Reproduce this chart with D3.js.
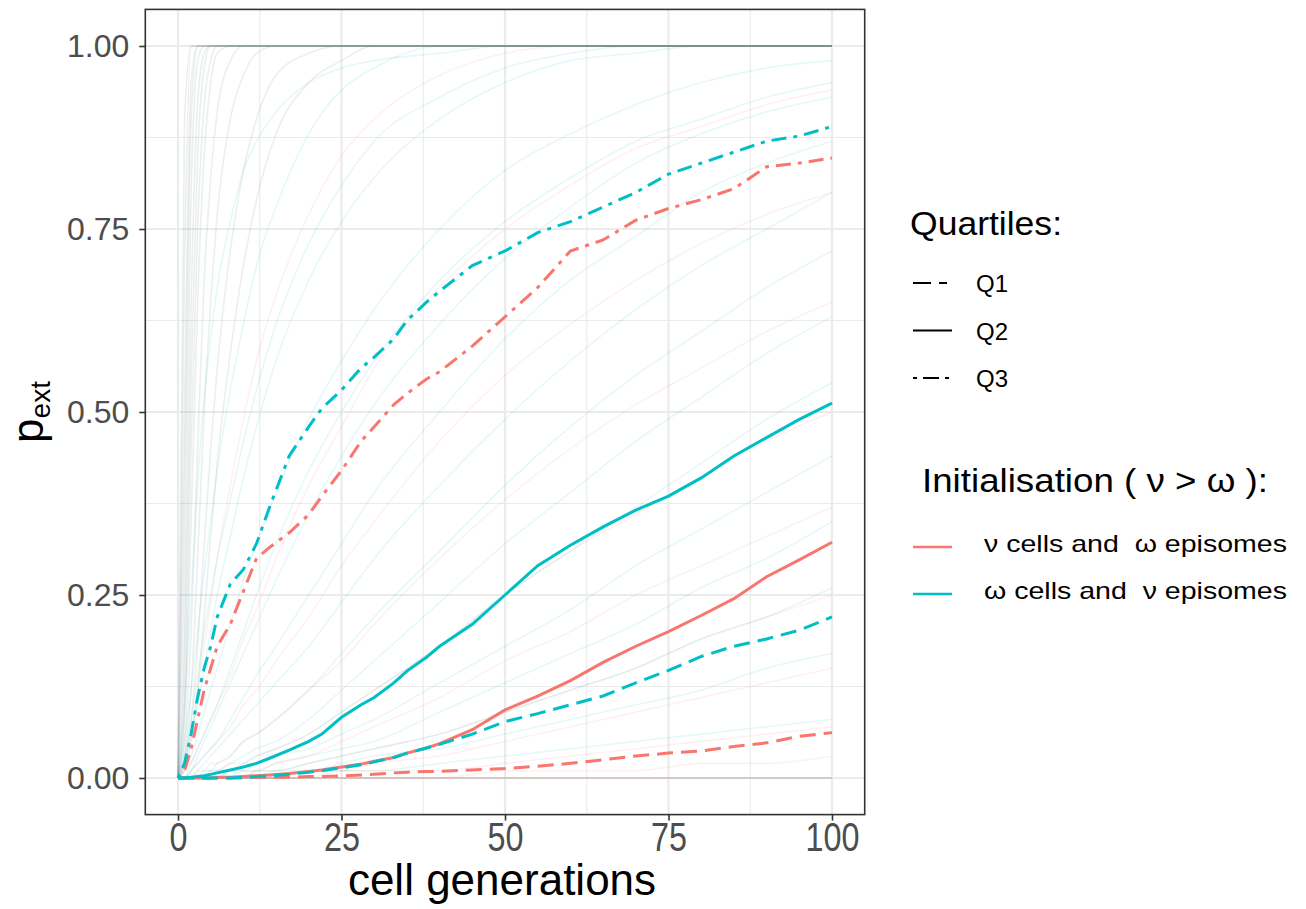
<!DOCTYPE html>
<html>
<head>
<meta charset="utf-8">
<script src="https://cdn.jsdelivr.net/npm/d3@7"></script>
<style>
  body { margin: 0; background: #fff; }
  text { font-family: "Liberation Sans", Arial, sans-serif; }
</style>
</head>
<body>
<script>
/* DATA - quartile curves */
const gens = [0,1,2,3,4,5,6,8,10,12,14,17,20,22,25,28,30,33,35,38,40,45,50,55,60,65,70,75,80,85,90,95,100]

// ν cells and ω episomes (red)
const redQ1 = [0,0,0,0,0,0,0,0,0,0.001,0.001,0.001,0.002,0.002,0.003,0.004,0.005,0.007,0.008,0.009,0.009,0.011,0.013,0.016,0.02,0.025,0.03,0.034,0.037,0.043,0.048,0.057,0.062]
const redQ2 = [0,0,0,0,0,0,0.001,0.001,0.002,0.003,0.004,0.006,0.009,0.011,0.015,0.019,0.023,0.028,0.034,0.041,0.047,0.066,0.093,0.112,0.133,0.158,0.18,0.2,0.222,0.245,0.275,0.298,0.322]
const redQ3 = [0,0.01,0.04,0.08,0.12,0.15,0.18,0.21,0.255,0.3,0.315,0.335,0.36,0.385,0.42,0.46,0.48,0.51,0.525,0.545,0.555,0.59,0.63,0.67,0.72,0.735,0.762,0.778,0.79,0.805,0.835,0.84,0.847]
// ω cells and ν episomes (cyan)
const cyanQ1 = [0,0,0,0,0,0,0,0,0.001,0.002,0.003,0.005,0.008,0.01,0.014,0.018,0.022,0.028,0.034,0.041,0.046,0.06,0.077,0.088,0.1,0.112,0.13,0.147,0.166,0.18,0.19,0.202,0.22]
const cyanQ2 = [0,0,0.001,0.002,0.003,0.005,0.007,0.011,0.015,0.02,0.027,0.038,0.05,0.06,0.083,0.1,0.11,0.13,0.146,0.165,0.18,0.21,0.25,0.29,0.318,0.343,0.366,0.385,0.41,0.44,0.465,0.49,0.512]
const cyanQ3 = [0,0.02,0.06,0.11,0.15,0.18,0.22,0.265,0.285,0.32,0.37,0.44,0.48,0.505,0.53,0.56,0.575,0.6,0.625,0.65,0.665,0.7,0.72,0.745,0.76,0.78,0.8,0.825,0.84,0.855,0.87,0.877,0.89]

/* faint single runs behind the quartiles (estimated) */
const runGens = [0,1,2,3,4,5,6,8,10,12,15,20,25,30,40,50,60,70,80,90,100]
const grayRuns = [
  [0,0.9,1,1,1,1,1,1,1,1,1,1,1,1,1,1,1,1,1,1,1],
  [0,0.7,1,1,1,1,1,1,1,1,1,1,1,1,1,1,1,1,1,1,1],
  [0,0.5,0.95,1,1,1,1,1,1,1,1,1,1,1,1,1,1,1,1,1,1],
  [0,0.4,0.9,1,1,1,1,1,1,1,1,1,1,1,1,1,1,1,1,1,1],
  [0,0.3,0.8,0.98,1,1,1,1,1,1,1,1,1,1,1,1,1,1,1,1,1],
  [0,0.2,0.65,0.92,0.99,1,1,1,1,1,1,1,1,1,1,1,1,1,1,1,1],
  [0,0.15,0.55,0.85,0.97,1,1,1,1,1,1,1,1,1,1,1,1,1,1,1,1],
  [0,0.1,0.45,0.75,0.92,0.98,1,1,1,1,1,1,1,1,1,1,1,1,1,1,1],
  [0,0.08,0.35,0.65,0.85,0.95,0.99,1,1,1,1,1,1,1,1,1,1,1,1,1,1],
  [0,0.05,0.2,0.45,0.68,0.82,0.91,0.98,1,1,1,1,1,1,1,1,1,1,1,1,1],
  [0,0.03,0.12,0.3,0.5,0.65,0.77,0.9,0.96,0.99,1,1,1,1,1,1,1,1,1,1,1],
  [0,0.02,0.08,0.18,0.32,0.45,0.56,0.72,0.83,0.9,0.96,0.99,1,1,1,1,1,1,1,1,1],
  [0,0.01,0.05,0.12,0.22,0.33,0.43,0.58,0.7,0.79,0.88,0.95,0.98,1,1,1,1,1,1,1,1],
  [0,0,0,0,0,0,0,0,0,0,0,0,0,0,0,0,0,0,0,0,0],
  [0,0,0,0,0,0,0,0,0,0,0,0,0,0,0,0,0,0,0,0,0]
]
const cyanRuns = [
  [0,0.1,0.25,0.4,0.52,0.6,0.67,0.76,0.83,0.87,0.91,0.95,0.97,0.98,0.99,1,1,1,1,1,1],
  [0,0.05,0.12,0.2,0.28,0.35,0.42,0.53,0.62,0.7,0.78,0.88,0.94,0.97,1,1,1,1,1,1,1],
  [0,0.02,0.06,0.1,0.15,0.2,0.25,0.33,0.41,0.48,0.57,0.68,0.76,0.82,0.9,0.95,0.98,0.99,1,1,1],
  [0,0.01,0.03,0.06,0.09,0.12,0.15,0.21,0.27,0.32,0.39,0.49,0.57,0.64,0.75,0.83,0.88,0.92,0.95,0.97,0.98],
  [0,0,0.01,0.03,0.05,0.07,0.09,0.13,0.17,0.21,0.27,0.36,0.44,0.51,0.62,0.71,0.78,0.84,0.88,0.91,0.93],
  [0,0,0.01,0.02,0.03,0.04,0.05,0.08,0.11,0.14,0.18,0.25,0.32,0.39,0.5,0.6,0.68,0.74,0.8,0.84,0.87],
  [0,0,0,0.01,0.02,0.03,0.04,0.06,0.08,0.1,0.13,0.18,0.24,0.3,0.4,0.49,0.57,0.64,0.7,0.75,0.8],
  [0,0,0,0,0.01,0.01,0.02,0.03,0.05,0.06,0.08,0.12,0.17,0.22,0.31,0.4,0.48,0.55,0.61,0.67,0.72],
  [0,0,0,0,0,0.01,0.01,0.02,0.03,0.04,0.05,0.08,0.12,0.16,0.24,0.32,0.39,0.46,0.52,0.58,0.63],
  [0,0,0,0,0,0,0.01,0.01,0.02,0.03,0.04,0.06,0.09,0.12,0.18,0.25,0.31,0.37,0.43,0.49,0.54],
  [0,0,0,0,0,0,0,0.01,0.01,0.02,0.03,0.04,0.06,0.08,0.13,0.18,0.23,0.29,0.34,0.39,0.44],
  [0,0,0,0,0,0,0,0,0.01,0.01,0.02,0.03,0.04,0.05,0.09,0.13,0.17,0.21,0.26,0.3,0.35],
  [0,0,0,0,0,0,0,0,0,0.01,0.01,0.02,0.03,0.04,0.06,0.09,0.12,0.15,0.19,0.22,0.26],
  [0,0,0,0,0,0,0,0,0,0,0.01,0.01,0.02,0.03,0.04,0.06,0.08,0.1,0.12,0.15,0.17],
  [0,0,0,0,0,0,0,0,0,0,0,0.01,0.01,0.01,0.02,0.03,0.04,0.05,0.06,0.07,0.08],
  [0,0.03,0.08,0.14,0.2,0.25,0.3,0.38,0.46,0.53,0.62,0.73,0.81,0.87,0.93,0.97,0.99,1,1,1,1],
  [0,0,0.02,0.04,0.06,0.08,0.1,0.15,0.2,0.25,0.32,0.42,0.5,0.57,0.68,0.76,0.82,0.87,0.9,0.93,0.95]
]
const redRuns = [
  [0,0.02,0.06,0.12,0.18,0.24,0.3,0.4,0.49,0.57,0.66,0.77,0.85,0.9,0.96,0.99,1,1,1,1,1],
  [0,0.01,0.02,0.04,0.06,0.08,0.1,0.14,0.19,0.23,0.3,0.4,0.48,0.56,0.67,0.75,0.81,0.86,0.89,0.92,0.94],
  [0,0,0.01,0.02,0.03,0.04,0.05,0.07,0.1,0.12,0.16,0.22,0.29,0.35,0.46,0.55,0.62,0.68,0.73,0.77,0.8],
  [0,0,0,0.01,0.01,0.02,0.02,0.03,0.05,0.06,0.08,0.12,0.16,0.21,0.3,0.38,0.45,0.51,0.56,0.61,0.65],
  [0,0,0,0,0,0.01,0.01,0.02,0.02,0.03,0.04,0.06,0.09,0.12,0.18,0.25,0.31,0.36,0.41,0.46,0.5],
  [0,0,0,0,0,0,0,0.01,0.01,0.01,0.02,0.03,0.05,0.07,0.11,0.16,0.2,0.25,0.29,0.33,0.37],
  [0,0,0,0,0,0,0,0,0,0.01,0.01,0.02,0.03,0.04,0.06,0.09,0.12,0.15,0.19,0.22,0.25],
  [0,0,0,0,0,0,0,0,0,0,0,0.01,0.01,0.02,0.03,0.05,0.07,0.09,0.11,0.13,0.15],
  [0,0,0,0,0,0,0,0,0,0,0,0,0.01,0.01,0.01,0.02,0.03,0.04,0.05,0.06,0.07],
  [0,0,0,0,0,0,0,0,0,0,0,0,0,0,0,0.01,0.01,0.01,0.02,0.02,0.03],
  [0,0,0,0,0,0,0,0,0,0,0,0,0,0,0,0,0,0,0,0,0],
  [0,0,0,0,0,0,0,0,0,0,0,0,0,0,0,0,0,0,0,0,0]
]

const xTicks = [0,25,50,75,100]
const yTicks = [0,0.25,0.5,0.75,1]
const quartileLabels = ['Q1','Q2','Q3']
const initLabels = ['\u03bd cells and  \u03c9 episomes', '\u03c9 cells and  \u03bd episomes']
const initColors = ['#F8766D', '#00BFC4']

/* SETUP */
const W = 1306, H = 909
const svg = d3.select('body').append('svg').attr('width', W).attr('height', H)

const x = d3.scaleLinear([0, 100], [178, 832])
const y = d3.scaleLinear([0, 1], [778, 46])
const px0 = x(-5), px1 = x(105), py0 = y(1.05), py1 = y(-0.05)

svg.append('defs').append('clipPath').attr('id', 'panel')
  .append('rect').attr('x', px0).attr('y', py0).attr('width', px1 - px0).attr('height', py1 - py0)

// gridlines: minor then major
const grid = svg.append('g')
const minorX = [12.5, 37.5, 62.5, 87.5], minorY = [0.125, 0.375, 0.625, 0.875]
grid.selectAll('.mx').data(minorX).enter().append('line')
  .attr('x1', d => x(d)).attr('x2', d => x(d)).attr('y1', py0).attr('y2', py1)
  .attr('stroke', '#ebebeb').attr('stroke-width', 1.1)
grid.selectAll('.my').data(minorY).enter().append('line')
  .attr('y1', d => y(d)).attr('y2', d => y(d)).attr('x1', px0).attr('x2', px1)
  .attr('stroke', '#ebebeb').attr('stroke-width', 1.1)
grid.selectAll('.Mx').data(xTicks).enter().append('line')
  .attr('x1', d => x(d)).attr('x2', d => x(d)).attr('y1', py0).attr('y2', py1)
  .attr('stroke', '#ebebeb').attr('stroke-width', 2.2)
grid.selectAll('.My').data(yTicks).enter().append('line')
  .attr('y1', d => y(d)).attr('y2', d => y(d)).attr('x1', px0).attr('x2', px1)
  .attr('stroke', '#ebebeb').attr('stroke-width', 2.2)

const plot = svg.append('g').attr('clip-path', 'url(#panel)')

// faint runs
const runLine = d3.line().x((d, i) => x(runGens[i])).y(d => y(d)).curve(d3.curveMonotoneX)
const bg = plot.append('g').attr('fill', 'none').attr('stroke-width', 1.6)
bg.selectAll('.rr').data(redRuns).enter().append('path')
  .attr('d', runLine).attr('stroke', '#F8766D').attr('stroke-opacity', 0.1)
bg.selectAll('.cr').data(cyanRuns).enter().append('path')
  .attr('d', runLine).attr('stroke', '#00BFC4').attr('stroke-opacity', 0.1)
bg.selectAll('.gr').data(grayRuns).enter().append('path')
  .attr('d', runLine).attr('stroke', '#5f7f7f').attr('stroke-opacity', 0.12)

// quartiles
const dashes = { Q1: '16,8', Q2: null, Q3: '4,7,15,7' }
const qLine = d3.line().x((d, i) => x(gens[i])).y(d => y(d))
const quartiles = [
  { q: 'Q1', c: '#F8766D', v: redQ1 }, { q: 'Q2', c: '#F8766D', v: redQ2 }, { q: 'Q3', c: '#F8766D', v: redQ3 },
  { q: 'Q1', c: '#00BFC4', v: cyanQ1 }, { q: 'Q2', c: '#00BFC4', v: cyanQ2 }, { q: 'Q3', c: '#00BFC4', v: cyanQ3 }
]
plot.selectAll('.q').data(quartiles).enter().append('path')
  .attr('d', d => qLine(d.v)).attr('fill', 'none')
  .attr('stroke', d => d.c).attr('stroke-width', 3)
  .attr('stroke-dasharray', d => dashes[d.q])

// panel border
svg.append('rect').attr('x', px0).attr('y', py0).attr('width', px1 - px0).attr('height', py1 - py0)
  .attr('fill', 'none').attr('stroke', '#333').attr('stroke-width', 1.6)

/* AXES */
const xAxis = svg.append('g').attr('transform', `translate(0,${py1})`)
  .call(d3.axisBottom(x).tickValues(xTicks).tickSize(6).tickPadding(2).tickSizeOuter(0))
xAxis.select('.domain').remove()
xAxis.selectAll('line').attr('stroke', '#333').attr('stroke-width', 1.6)
xAxis.selectAll('text').attr('fill', '#4d4d4d').attr('font-size', 40)
  .attr('font-family', '"Liberation Sans", Arial, sans-serif')
  .attr('textLength', d => String(d).length * 18).attr('lengthAdjust', 'spacingAndGlyphs')

const yAxis = svg.append('g').attr('transform', `translate(${px0},0)`)
  .call(d3.axisLeft(y).tickValues(yTicks).tickFormat(d3.format('.2f')).tickSize(6).tickPadding(10).tickSizeOuter(0))
yAxis.select('.domain').remove()
yAxis.selectAll('line').attr('stroke', '#333').attr('stroke-width', 1.6)
yAxis.selectAll('text').attr('fill', '#4d4d4d').attr('font-size', 32)
  .attr('font-family', '"Liberation Sans", Arial, sans-serif')

// titles
svg.append('text').attr('x', 502).attr('y', 895).attr('text-anchor', 'middle')
  .attr('font-size', 44).attr('fill', '#000').text('cell generations')
const yt = svg.append('text').attr('transform', 'translate(43,412) rotate(-90)')
  .attr('text-anchor', 'middle').attr('fill', '#000')
yt.append('tspan').attr('font-size', 44).text('p')
yt.append('tspan').attr('font-size', 28).attr('dy', 7).text('ext')

/* LEGEND */
const leg = svg.append('g')
leg.append('text').attr('x', 910).attr('y', 235).attr('font-size', 33)
  .attr('textLength', 152).attr('lengthAdjust', 'spacingAndGlyphs').text('Quartiles:')
const legDash = { Q1: '18,8,8,20', Q2: null, Q3: '4,6,16,6' }
const qRows = leg.selectAll('.qr').data(quartileLabels).enter().append('g')
  .attr('transform', (d, i) => `translate(0,${283 + i * 47.5})`)
qRows.append('line').attr('x1', 913).attr('x2', 952).attr('stroke', '#000').attr('stroke-width', 2)
  .attr('stroke-dasharray', d => legDash[d])
qRows.append('text').attr('x', 976).attr('y', 9).attr('font-size', 24).text(d => d)

leg.append('text').attr('x', 922).attr('y', 492).attr('font-size', 33).style('white-space', 'pre')
  .attr('textLength', 346).attr('lengthAdjust', 'spacingAndGlyphs')
  .text('Initialisation ( \u03bd > \u03c9 ):')
const iRows = leg.selectAll('.ir').data(initLabels).enter().append('g')
  .attr('transform', (d, i) => `translate(0,${547 + i * 47})`)
iRows.append('line').attr('x1', 913).attr('x2', 952).attr('stroke', (d, i) => initColors[i]).attr('stroke-width', 2.5)
iRows.append('text').attr('x', 984).attr('y', 5).attr('font-size', 24).style('white-space', 'pre')
  .attr('textLength', 303).attr('lengthAdjust', 'spacingAndGlyphs').text(d => d)
</script>
</body>
</html>
